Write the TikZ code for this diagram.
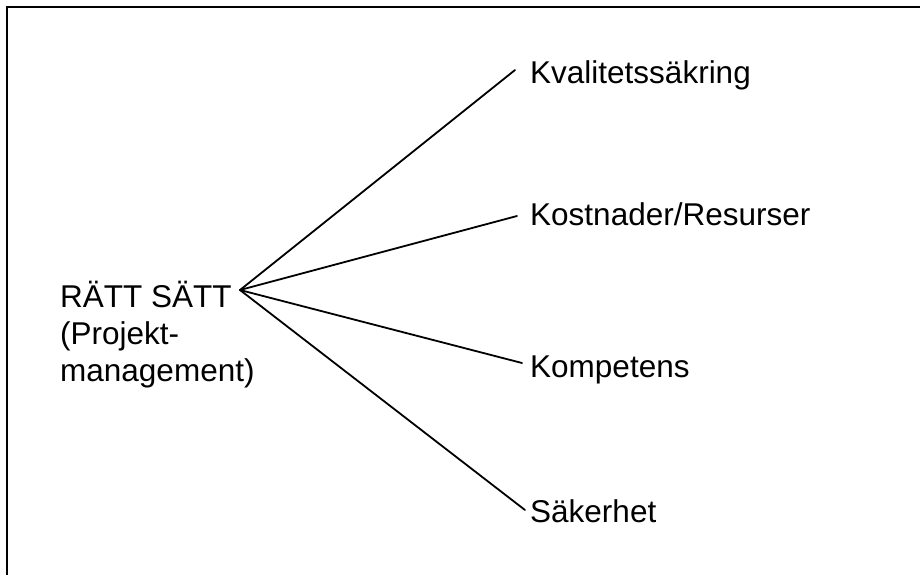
\documentclass[tikz,border=0pt]{standalone}
\usepackage{fontspec}
\setmainfont{Liberation Sans}
\begin{document}
\begin{tikzpicture}[x=1pt,y=-1pt,
  lbl/.style={inner sep=0pt,anchor=base west,font=\fontsize{31.5}{37}\selectfont},
  branch/.style={line width=1.8pt,line cap=round},
  frame/.style={line width=2pt}]
\useasboundingbox (0,0) rectangle (920,574);
% open frame: top and left edges
\coordinate (ftr) at (925,7);
\coordinate (ftl) at (7,7);
\coordinate (fbl) at (7,580);
\draw[frame] (ftr) -- (ftl) -- (fbl);
% root text (base anchor sits on the last line)
\node[lbl,align=left] (root) at (60,381) {RÄTT SÄTT\\(Projekt-\\management)};
\coordinate (hub) at (240,290);
% leaves
\node[lbl] (q) at (530,83) {Kvalitetssäkring};
\node[lbl] (k) at (530,225) {Kostnader/Resurser};
\node[lbl] (c) at (530,377) {Kompetens};
\node[lbl] (s) at (530,522) {Säkerhet};
\coordinate (eq) at (515,70);
\coordinate (ek) at (517,216);
\coordinate (ec) at (522,363);
\coordinate (es) at (525,510);
\draw[branch] (hub) -- (eq);
\draw[branch] (hub) -- (ek);
\draw[branch] (hub) -- (ec);
\draw[branch] (hub) -- (es);
\end{tikzpicture}
\end{document}
